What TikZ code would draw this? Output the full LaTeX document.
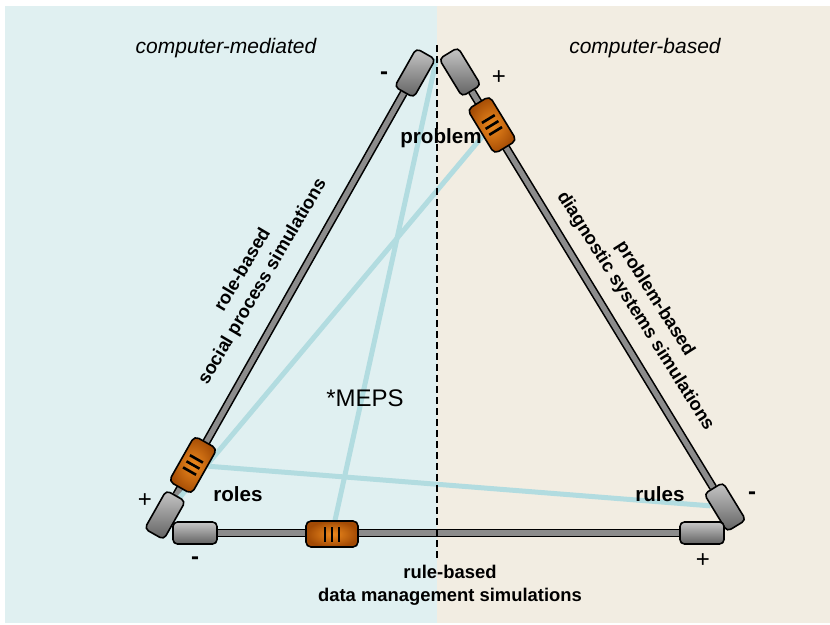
\documentclass[tikz,border=0pt]{standalone}
\usepackage{fontspec}
\setmainfont{Liberation Sans}
\usetikzlibrary{positioning, calc}
\pgfdeclarelayer{panel}
\pgfdeclarelayer{wires}
\pgfsetlayers{panel,wires,main}
\definecolor{mediatedbg}{HTML}{E0F0F1}
\definecolor{basedbg}{HTML}{F2EDE2}
\definecolor{linkblue}{HTML}{B2DCE0}
\definecolor{resin}{HTML}{EE8A1E}
\definecolor{resout}{HTML}{A24A04}
\tikzset{
    cap node/.style={rectangle, draw, line width=0.8pt, rounded corners=2.2pt, minimum width=22pt, minimum height=11pt, inner sep=0pt, top color=black!22, bottom color=black!62},
    res node/.style={rectangle, draw, line width=0.8pt, rounded corners=2.5pt, minimum width=26pt, minimum height=13pt, inner sep=0pt, inner color=resin, outer color=resout},
    shaft/.style={draw=black, line width=0.8pt, double=black!45, double distance=2.6pt},
    link line/.style={linkblue, line width=2.5pt},
    divider/.style={black, line width=1pt, dash pattern=on 3.5pt off 2pt},
    zone label/.style={font=\itshape\fontsize{10.5}{12}\selectfont, inner sep=0pt},
    corner label/.style={font=\bfseries\fontsize{10.3}{12}\selectfont, inner sep=0pt},
    side label/.style={font=\bfseries\fontsize{9.2}{11.5}\selectfont, align=center, inner sep=0pt},
    sign label/.style={font=\fontsize{12}{14}\selectfont, inner sep=0pt},
    meps label/.style={font=\fontsize{12}{14}\selectfont, inner sep=0pt},
}
\newcommand{\resbars}{\rule{1.3pt}{7.5pt}\hspace{2.2pt}\rule{1.3pt}{7.5pt}\hspace{2.2pt}\rule{1.3pt}{7.5pt}}

\begin{document}
\begin{tikzpicture}[x=0.5pt, y=-0.5pt]
    \useasboundingbox (0,0) rectangle (830,625);
    \begin{pgfonlayer}{panel}
        \fill[mediatedbg] (5,6) rectangle (437,623);
        \fill[basedbg] (437,6) rectangle (830,623);
    \end{pgfonlayer}

    % end caps
    \node[cap node, rotate=60.5] (capTL) at (415,73) {};
    \node[cap node, rotate=60.5] (capBL) at (165,515) {};
    \node[cap node, rotate=-58.6] (capTR) at (460,72) {};
    \node[cap node, rotate=-58.6] (capBR) at (725,507) {};
    \node[cap node] (capLB) at (195,533) {};
    \node[cap node] (capRB) at (702,533) {};

    % sliders
    \node[res node, rotate=60.5] (resL) at (193,465) {\resbars};
    \node[res node, rotate=-58.6] (resR) at (492,125) {\resbars};
    \node[res node] (resB) at (332,534) {\resbars};

    \coordinate (divtop) at (437,45);
    \coordinate (divbot) at (437,560);

    \begin{pgfonlayer}{wires}
        \path[shaft] (capTL) -- (capBL);
        \path[shaft] (capTR) -- (capBR);
        \path[shaft] (capLB) -- (capRB);
        \draw[link line] (capTL.south east) -- (resB);
        \draw[link line] (resR) -- (capBL);
        \draw[link line] (resL) -- (capBR);
        \draw[divider] (divtop) -- (divbot);
    \end{pgfonlayer}

    % labels
    \node[zone label] (medlabel) at (226,48) {computer-mediated};
    \node[zone label] (baselabel) at (645,48) {computer-based};
    \node[corner label] (problem) at (441,138) {problem};
    \node[corner label] (roles) at (238,494) {roles};
    \node[corner label] (rules) at (660,494) {rules};
    \node[meps label] (meps) at (365,398) {*MEPS};
    \node[side label, rotate=59.5] (rolebased) at (253,276) {role-based\\social process simulations};
    \node[side label, rotate=-57.7] (problembased) at (645,305) {problem-based\\diagnostic systems simulations};
    \node[side label] (rulebased) at (450,585) {rule-based\\data management simulations};

    \node[sign label] (tlminus) at (384,76) {\textbf{-}};
    \node[sign label] (trplus) at (499,78) {+};
    \node[sign label] (blplus) at (145,501) {+};
    \node[sign label] (lbminus) at (195,561) {\textbf{-}};
    \node[sign label] (rbplus) at (703,561) {+};
    \node[sign label] (brminus) at (752,496) {\textbf{-}};
\end{tikzpicture}
\end{document}
